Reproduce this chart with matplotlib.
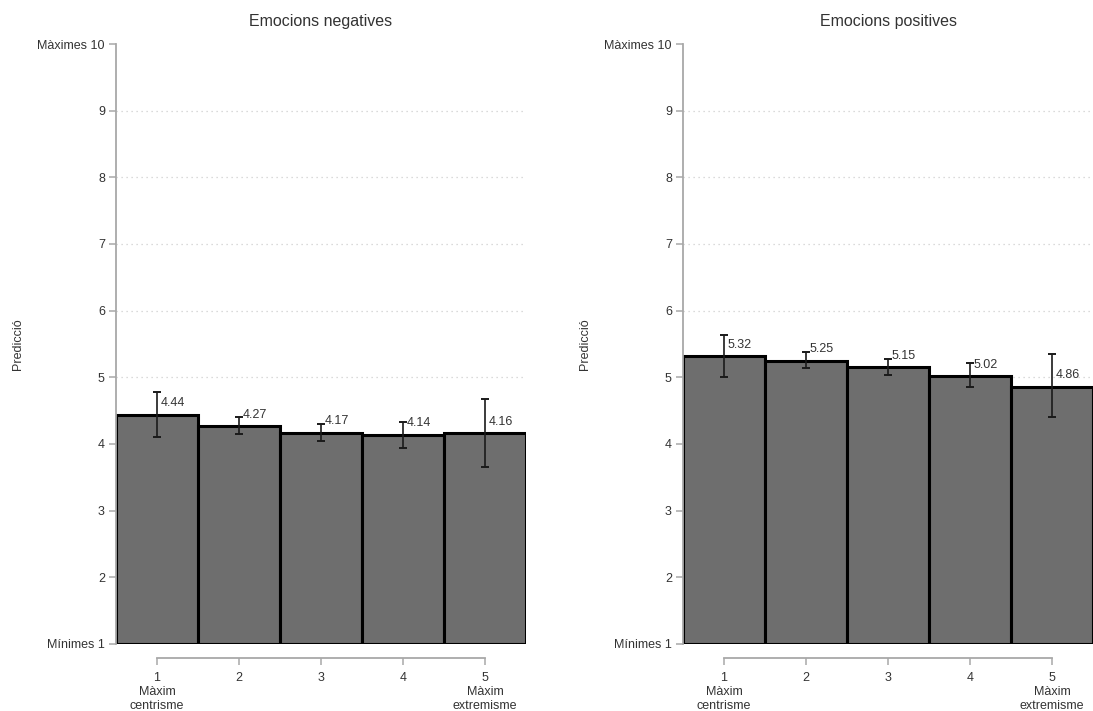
import matplotlib.pyplot as plt
import numpy as np

plt.rcParams['font.family'] = ['Liberation Sans', 'DejaVu Sans']

# data
categories = [1, 2, 3, 4, 5]
cat_labels = ['1\nMàxim\ncentrisme', '2', '3', '4', '5\nMàxim\nextremisme']

neg_vals = [4.44, 4.27, 4.17, 4.14, 4.16]
neg_lo = [4.10, 4.15, 4.05, 3.94, 3.65]
neg_hi = [4.78, 4.40, 4.30, 4.33, 4.68]

pos_vals = [5.32, 5.25, 5.15, 5.02, 4.86]
pos_lo = [5.01, 5.14, 5.04, 4.85, 4.40]
pos_hi = [5.64, 5.38, 5.27, 5.21, 5.35]

y_ticks = [1, 2, 3, 4, 5, 6, 7, 8, 9, 10]
y_ticklabels = ['Mínimes 1', '2', '3', '4', '5', '6', '7', '8', '9', 'Màximes 10']

panels = [
    ('Emocions negatives', neg_vals, neg_lo, neg_hi),
    ('Emocions positives', pos_vals, pos_lo, pos_hi),
]

fig = plt.figure(figsize=(10.93, 7.11), dpi=100)
axes_left = [116 / 1093, 683 / 1093]
axis_gray = '#a8a8a8'
text_col = '#333333'

for (title, vals, lo, hi), x0 in zip(panels, axes_left):
    ax = fig.add_axes([x0, 67 / 711, 410 / 1093, 600 / 711])
    x = np.array(categories)
    vals = np.array(vals)
    ax.bar(x, vals - 1, bottom=1, width=1.0, color='#6e6e6e',
           edgecolor='black', linewidth=2.2, zorder=2)
    ax.errorbar(x, vals, yerr=[vals - np.array(lo), np.array(hi) - vals],
                fmt='none', ecolor='#1a1a1a', elinewidth=1.2, capsize=2.8,
                capthick=1.4, zorder=3)
    for xi, v in zip(x, vals):
        ax.text(xi + 0.04, v + 0.17, f'{v:.2f}', fontsize=9, color=text_col,
                ha='left', va='center', zorder=4)

    ax.set_xlim(0.5, 5.5)
    ax.set_ylim(1, 10)
    ax.set_yticks(y_ticks)
    ax.set_yticklabels(y_ticklabels)
    ax.set_xticks(categories)
    ax.set_xticklabels(cat_labels, linespacing=0.88)

    for g in y_ticks[1:-1]:
        ax.axhline(g, color='#cfcfcf', linestyle=(0, (1, 3)), linewidth=0.9, zorder=1)

    for s in ['top', 'right']:
        ax.spines[s].set_visible(False)
    ax.spines['left'].set_color(axis_gray)
    ax.spines['left'].set_linewidth(1.3)
    ax.spines['bottom'].set_color(axis_gray)
    ax.spines['bottom'].set_linewidth(1.3)
    ax.spines['bottom'].set_position(('outward', 10))
    ax.spines['bottom'].set_bounds(1, 5)

    ax.tick_params(axis='y', direction='out', length=5, width=1.1,
                   color=axis_gray, labelsize=9, labelcolor=text_col, pad=3)
    ax.tick_params(axis='x', direction='out', length=5, width=1.1,
                   color=axis_gray, labelsize=9, labelcolor=text_col, pad=5.5)

    ax.set_ylabel('Predicció', fontsize=9, color=text_col)
    ax.yaxis.set_label_coords(-0.225, 0.5)
    ax.set_title(title, fontsize=11.5, color=text_col, pad=13)

fig.savefig('out.png', dpi=100)
